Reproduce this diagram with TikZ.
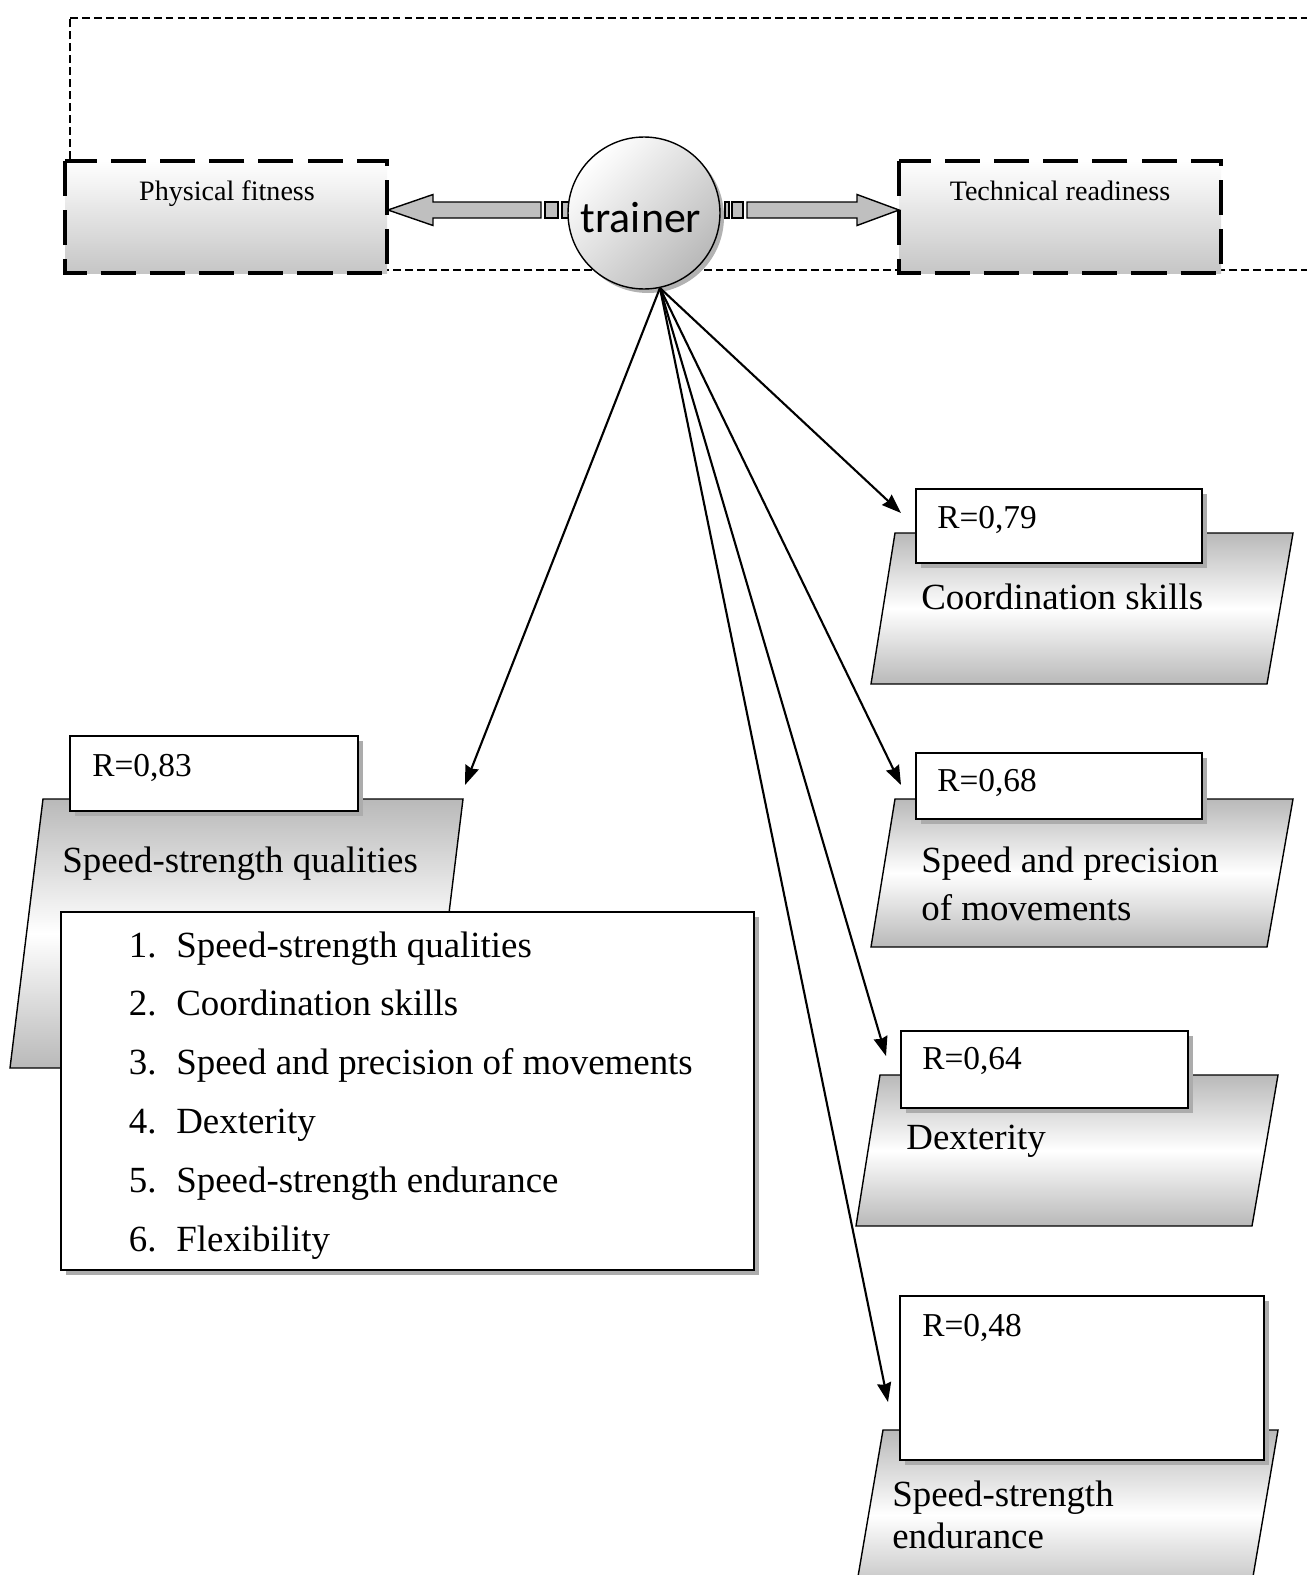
\documentclass[tikz,border=0pt]{standalone}
\usepackage{fontspec}
\setmainfont{Liberation Serif}
\newfontfamily\trainerfont{Carlito}
\usetikzlibrary{arrows.meta}

\begin{document}
\begin{tikzpicture}[
  x=0.02cm, y=-0.02cm,
  dashbox/.style={draw, line width=2.2pt, dash pattern=on 20pt off 8pt, top color=white, bottom color=gray!45},
  plate/.style={draw, line width=0.8pt, top color=gray!55, bottom color=gray!55, middle color=white},
  rbox/.style={draw, line width=1.1pt, fill=white},
  boxshadow/.style={fill=gray!65},
  fatarrow/.style={draw, line width=0.8pt, fill=gray!50},
  link/.style={line width=1.2pt, -{Stealth[length=11pt, width=8pt, inset=1pt]}},
  big/.style={font=\fontsize{21}{25}\selectfont, inner sep=0, anchor=base west},
  rtext/.style={font=\fontsize{19}{23}\selectfont, inner sep=0, anchor=base west},
  small/.style={font=\fontsize{16}{19}\selectfont, inner sep=0, anchor=base}
]
\useasboundingbox (0,0) rectangle (1306,1575);

% thin dashed frame behind the top row
\draw[line width=0.6pt, dash pattern=on 4.5pt off 2.3pt] (70,18) -- (1340,18) -- (1340,270) -- (70,270) -- cycle;

% top row
\path[dashbox] (65,161) rectangle (387,273);
\node[small] (pf) at (227,200) {Physical fitness};
\path[dashbox] (899,161) rectangle (1221,273);
\node[small] (tr) at (1060,200) {Technical readiness};

% block arrows with stripes
\path[fatarrow] (388,210) -- (433,194.5) -- (433,202) -- (541,202) -- (541,218) -- (433,218) -- (433,225.5) -- cycle;
\path[fatarrow] (545,202) rectangle (558,218);
\path[fatarrow] (562,202) rectangle (569,218);
\path[fatarrow] (899,210) -- (857,194.5) -- (857,202) -- (747,202) -- (747,218) -- (857,218) -- (857,225.5) -- cycle;
\path[fatarrow] (725,202) rectangle (729,218);
\path[fatarrow] (732,202) rectangle (743,218);

\fill[gray!60] (648,217) circle (76);
\node[circle, draw, line width=0.8pt, minimum size=3.04cm, inner sep=0,
      top color=white, bottom color=gray!55, shading angle=45] (trainer) at (644,213) {};
\node[font=\trainerfont\fontsize{25}{29}\selectfont, inner sep=0] (trainer-text) at (641,218) {trainer};

% Speed-strength qualities
\path[plate] (43,799) -- (463,799) -- (430,1068) -- (10,1068) -- cycle;
\path[boxshadow] (75,741) rectangle (363,816);
\path[rbox] (70,736) rectangle (358,811);
\node[rtext] (r83) at (92,776) {R=0,83};
\node[big] (ssq) at (62,872) {Speed-strength qualities};

% list of qualities
\path[boxshadow] (66,917) rectangle (759,1275);
\path[rbox] (61,912) rectangle (754,1270);
\foreach \t [count=\i] in {Speed-strength qualities, Coordination skills, Speed and precision of movements, Dexterity, Speed-strength endurance, Flexibility}
{
  \node[big, anchor=base east] (num\i) at (157,{957+(\i-1)*58.8}) {\i.};
  \node[big] (item\i) at (176,{957+(\i-1)*58.8}) {\t};
}

% Coordination skills
\path[plate] (895,533) -- (1293,533) -- (1267,684) -- (871,684) -- cycle;
\path[boxshadow] (921,494) rectangle (1207,568);
\path[rbox] (916,489) rectangle (1202,563);
\node[rtext] (r79) at (937,528) {R=0,79};
\node[big] (cs) at (921,609) {Coordination skills};

% Speed and precision of movements
\path[plate] (895,799) -- (1293,799) -- (1267,947) -- (871,947) -- cycle;
\path[boxshadow] (921,758) rectangle (1207,824);
\path[rbox] (916,753) rectangle (1202,819);
\node[rtext] (r68) at (937,791) {R=0,68};
\node[big] (sp1) at (921,872) {Speed and precision};
\node[big] (sp2) at (921,920) {of movements};

% Dexterity
\path[plate] (880,1075) -- (1278,1075) -- (1252,1226) -- (856,1226) -- cycle;
\path[boxshadow] (906,1036) rectangle (1193,1113);
\path[rbox] (901,1031) rectangle (1188,1108);
\node[rtext] (r64) at (922,1069) {R=0,64};
\node[big] (dx) at (906,1149) {Dexterity};

% Speed-strength endurance
\path[plate] (883,1430) -- (1278,1430) -- (1249,1600) -- (854,1600) -- cycle;
\path[boxshadow] (905,1301) rectangle (1269,1465);
\path[rbox] (900,1296) rectangle (1264,1460);
\node[rtext] (r48) at (922,1336) {R=0,48};
\node[big] (se1) at (892,1506) {Speed-strength};
\node[big] (se2) at (892,1548) {endurance};

% links from the trainer
\coordinate (hub) at (trainer.-78);
\coordinate (ssq-in) at (465,785);
\coordinate (cs-in) at (901,513);
\coordinate (sp-in) at (901,785);
\coordinate (dx-in) at (886,1056);
\coordinate (se-in) at (888,1402);
\foreach \t in {ssq-in, cs-in, sp-in, dx-in, se-in}
  \draw[link] (hub) -- (\t);
\end{tikzpicture}
\end{document}
